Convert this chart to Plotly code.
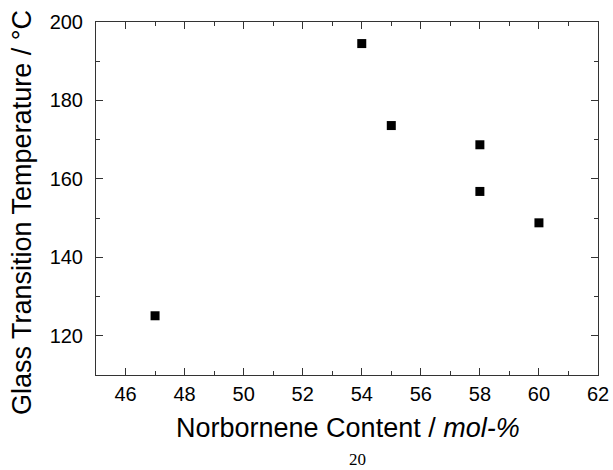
import plotly.graph_objects as go

norbornene = [47, 54, 55, 58, 58, 60]
tg = [125.1, 194.5, 173.6, 168.7, 156.8, 148.8]

x_ticks = [46, 48, 50, 52, 54, 56, 58, 60, 62]
y_ticks = [120, 140, 160, 180, 200]

W, H = 613, 470
L, R, T, B = 96, 15, 22, 95
plot_w = W - L - R
plot_h = H - T - B


def px_x(px):
    return (px - L) / plot_w


def px_y(py):
    return (H - B - py) / plot_h


fig = go.Figure()
fig.add_trace(go.Scatter(
    x=norbornene, y=tg, mode="markers",
    marker=dict(symbol="square", size=9, color="black", line=dict(width=0)),
    showlegend=False,
))

sans = "Liberation Sans, Arial, sans-serif"
axis_font = dict(family=sans, size=20, color="black")
fig.update_layout(
    width=W, height=H,
    margin=dict(l=L, r=R, t=T, b=B, autoexpand=False),
    paper_bgcolor="white", plot_bgcolor="white",
    font=dict(family=sans, color="black"),
    xaxis=dict(
        range=[45, 62], tickmode="array", tickvals=x_ticks,
        ticktext=[str(v) for v in x_ticks],
        ticks="inside", ticklen=7, tickwidth=1, tickcolor="#333",
        showline=True, linecolor="#333", linewidth=1, mirror="ticks",
        showgrid=False, zeroline=False, tickfont=axis_font, automargin=False,
        ticklabelstandoff=1,
        minor=dict(dtick=1, tick0=45, ticks="inside", ticklen=4, tickcolor="#333", showgrid=False),
    ),
    yaxis=dict(
        range=[110, 200], tickmode="array", tickvals=y_ticks,
        ticktext=[str(v) for v in y_ticks],
        ticks="inside", ticklen=7, tickwidth=1, tickcolor="#333",
        showline=True, linecolor="#333", linewidth=1, mirror="ticks",
        showgrid=False, zeroline=False, tickfont=axis_font, automargin=False,
        ticklabelstandoff=8,
        minor=dict(dtick=10, tick0=110, ticks="inside", ticklen=4, tickcolor="#333", showgrid=False),
    ),
    annotations=[
        dict(text="Norbornene Content / <i>mol-%</i>", x=px_x(348), y=px_y(428),
             xref="paper", yref="paper", showarrow=False, xanchor="center", yanchor="middle",
             font=dict(family=sans, size=27, color="black")),
        dict(text="Glass Transition Temperature / °C", x=px_x(22), y=px_y(213),
             xref="paper", yref="paper", showarrow=False, xanchor="center", yanchor="middle",
             textangle=-90, font=dict(family=sans, size=27, color="black")),
        dict(text="20", x=px_x(357), y=px_y(459),
             xref="paper", yref="paper", showarrow=False, xanchor="center", yanchor="middle",
             font=dict(family="Liberation Serif, Times New Roman, serif", size=17, color="black")),
    ],
)

fig.write_html("out.html")
